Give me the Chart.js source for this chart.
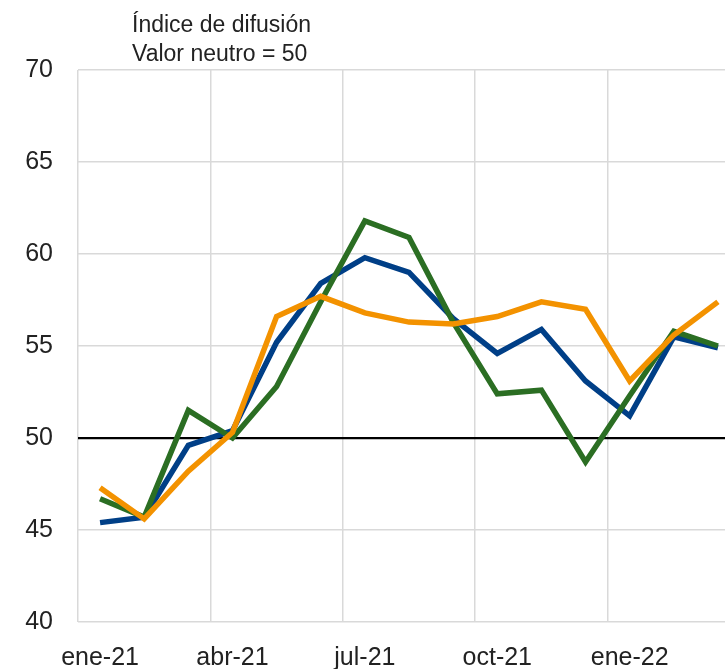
<!DOCTYPE html>
<html>
<head>
<meta charset="utf-8">
<script src="https://cdn.jsdelivr.net/npm/chart.js@4/dist/chart.umd.min.js"></script>
<style>
  html, body { margin: 0; padding: 0; background: #fff; overflow: hidden; }
  #chart { display: block; }
</style>
</head>
<body>
<canvas id="chart" width="745" height="669"></canvas>
<script>
// Monthly categories, ene-21 .. mar-22
const months = ['ene-21', 'feb-21', 'mar-21', 'abr-21', 'may-21', 'jun-21', 'jul-21', 'ago-21',
  'sep-21', 'oct-21', 'nov-21', 'dic-21', 'ene-22', 'feb-22', 'mar-22'];

// Diffusion index values
const blueSeries   = [45.4, 45.7, 49.6, 50.4, 55.2, 58.4, 59.8, 59.0, 56.5, 54.6, 55.9, 53.1, 51.2, 55.5, 54.9];
const greenSeries  = [46.7, 45.7, 51.5, 50.0, 52.8, 57.4, 61.8, 60.9, 56.3, 52.4, 52.6, 48.7, 52.3, 55.8, 55.0];
const orangeSeries = [47.3, 45.6, 48.2, 50.3, 56.6, 57.7, 56.8, 56.3, 56.2, 56.6, 57.4, 57.0, 53.1, 55.6, 57.4];

const yTicks = [40, 45, 50, 55, 60, 65, 70];
const titleLines = ['Índice de difusión', 'Valor neutro = 50'];

const FONT = '"Liberation Sans", Arial, sans-serif';
const GRID = '#d9d9d9';

// draws the two-line note above the plot
const notePlugin = {
  id: 'note',
  afterDraw(chart) {
    const ctx = chart.ctx;
    ctx.save();
    ctx.font = '23px ' + FONT;
    ctx.fillStyle = '#222';
    ctx.textBaseline = 'alphabetic';
    ctx.textAlign = 'left';
    const x = chart.chartArea.left + 54;
    titleLines.forEach((t, i) => ctx.fillText(t, x, 32 + i * 29));
    ctx.restore();
  }
};

const ctx = document.getElementById('chart').getContext('2d');
new Chart(ctx, {
  type: 'line',
  data: {
    labels: months,
    datasets: [
      { label: 'Naranja', data: orangeSeries, borderColor: '#F39200', order: 1 },
      { label: 'Verde', data: greenSeries, borderColor: '#2B6E23', order: 2 },
      { label: 'Azul', data: blueSeries, borderColor: '#003F87', order: 3 }
    ].map(d => Object.assign(d, {
      fill: false,
      borderWidth: 5.5,
      pointRadius: 0,
      tension: 0,
      borderJoinStyle: 'miter',
      borderCapStyle: 'butt'
    }))
  },
  options: {
    responsive: false,
    animation: false,
    layout: { padding: { top: 70, right: 5, bottom: 0, left: 0 } },
    plugins: {
      legend: { display: false },
      tooltip: { enabled: false }
    },
    scales: {
      x: {
        offset: true,
        afterFit: s => { s.height = 47; },
        grid: {
          offset: true,
          drawTicks: false,
          color: c => (c.index % 3 === 0 ? GRID : 'rgba(0,0,0,0)'),
          lineWidth: 1.5
        },
        border: { display: false },
        ticks: {
          autoSkip: false,
          maxRotation: 0,
          padding: 21,
          color: '#222',
          font: { family: FONT, size: 25 },
          callback: function(v, i) { return i % 3 === 0 ? this.getLabelForValue(v) : ''; }
        }
      },
      y: {
        min: 40,
        max: 70,
        afterFit: s => { s.width = 78; },
        afterBuildTicks: s => { s.ticks = yTicks.map(v => ({ value: v })); },
        grid: {
          drawTicks: false,
          color: c => (c.tick && c.tick.value === 50 ? '#000' : GRID),
          lineWidth: c => (c.tick && c.tick.value === 50 ? 2.2 : 1.5)
        },
        border: { display: false },
        ticks: {
          padding: 25,
          color: '#222',
          font: { family: FONT, size: 25 }
        }
      }
    }
  },
  plugins: [notePlugin]
});
</script>
</body>
</html>
